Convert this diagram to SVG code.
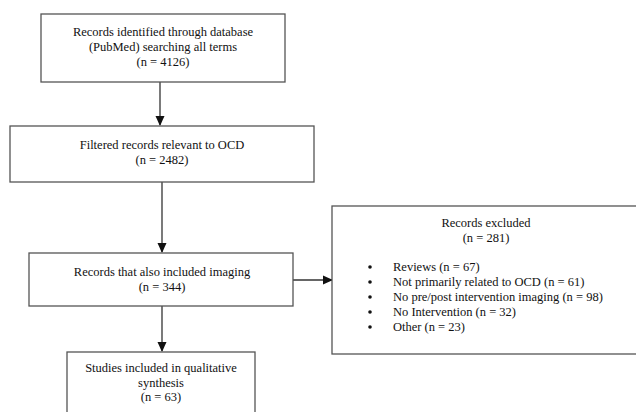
<svg xmlns="http://www.w3.org/2000/svg" width="636" height="412" viewBox="0 0 636 412">
<defs>
<marker id="ah" markerWidth="10" markerHeight="10" refX="9" refY="5" orient="auto" markerUnits="userSpaceOnUse">
<path d="M0,0.5 L10,5 L0,9.5 Z" fill="#111"/>
</marker>
<style>
.box{fill:#fff;stroke:#555;stroke-width:1.3}
.t{font-family:"Liberation Serif","Times New Roman",serif;font-size:12.5px;fill:#111;text-anchor:middle}
.l{font-family:"Liberation Serif","Times New Roman",serif;font-size:12.5px;fill:#111}
.c{stroke:#333;stroke-width:1.3;fill:none;marker-end:url(#ah)}
</style>
</defs>
<rect width="636" height="412" fill="#fff"/>
<g id="connectors">
<line class="c" x1="160" y1="82" x2="160" y2="125"/>
<line class="c" x1="162" y1="182" x2="162" y2="252"/>
<line class="c" x1="162" y1="306" x2="162" y2="351"/>
<line class="c" x1="293" y1="280" x2="332" y2="280"/>
</g>
<g id="n1">
<rect class="box" x="41" y="14" width="244" height="68"/>
<text class="t" x="163" y="36">Records identified through database</text>
<text class="t" x="163" y="51">(PubMed) searching all terms</text>
<text class="t" x="163" y="66">(n = 4126)</text>
</g>
<g id="n2">
<rect class="box" x="10" y="126" width="304" height="56"/>
<text class="t" x="162" y="149">Filtered records relevant to OCD</text>
<text class="t" x="162" y="164">(n = 2482)</text>
</g>
<g id="n3">
<rect class="box" x="29" y="253" width="264" height="53"/>
<text class="t" x="162" y="276">Records that also included imaging</text>
<text class="t" x="162" y="291">(n = 344)</text>
</g>
<g id="n4">
<rect class="box" x="67" y="352" width="188" height="70"/>
<text class="t" x="161" y="372">Studies included in qualitative</text>
<text class="t" x="161" y="387">synthesis</text>
<text class="t" x="161" y="401">(n = 63)</text>
</g>
<g id="n5">
<rect class="box" x="332" y="206" width="320" height="148"/>
<text class="t" x="486" y="227">Records excluded</text>
<text class="t" x="486" y="242">(n = 281)</text>
<circle cx="370" cy="267" r="1.8" fill="#111"/>
<circle cx="370" cy="282" r="1.8" fill="#111"/>
<circle cx="370" cy="297" r="1.8" fill="#111"/>
<circle cx="370" cy="312" r="1.8" fill="#111"/>
<circle cx="370" cy="327" r="1.8" fill="#111"/>
<text class="l" x="393" y="271">Reviews (n = 67)</text>
<text class="l" x="393" y="286">Not primarily related to OCD (n = 61)</text>
<text class="l" x="393" y="301">No pre/post intervention imaging (n = 98)</text>
<text class="l" x="393" y="316">No Intervention (n = 32)</text>
<text class="l" x="393" y="331">Other (n = 23)</text>
</g>
</svg>
